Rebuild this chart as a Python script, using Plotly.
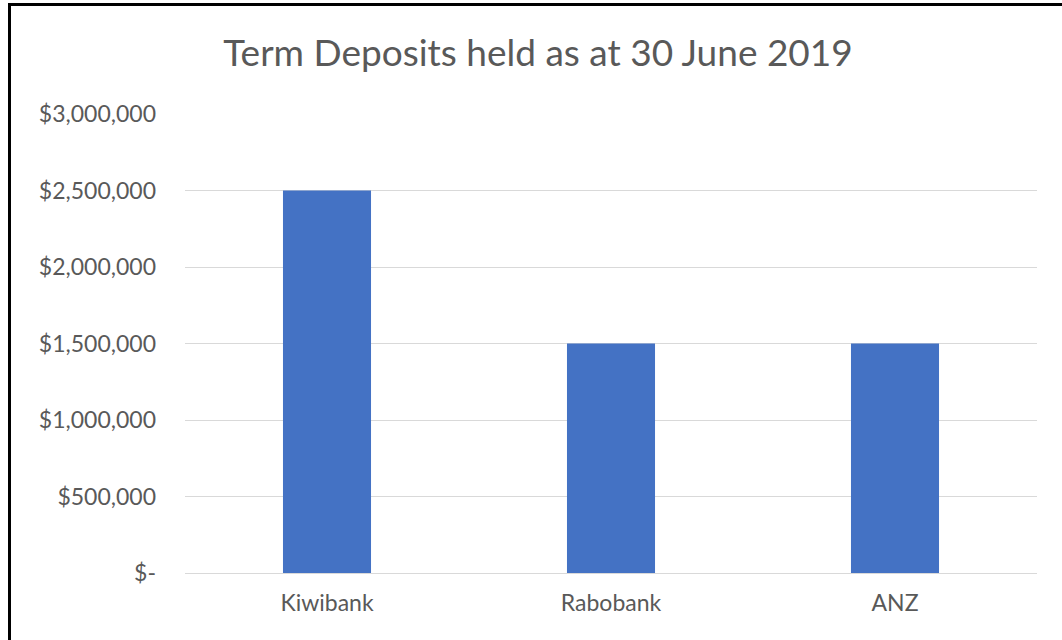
import plotly.graph_objects as go

categories = ["Kiwibank", "Rabobank", "ANZ"]
values = [2500000, 1500000, 1500000]
tick_vals = [0, 500000, 1000000, 1500000, 2000000, 2500000, 3000000]
tick_text = ["$-", "$500,000", "$1,000,000", "$1,500,000", "$2,000,000", "$2,500,000", "$3,000,000"]
title_text = "Term Deposits held as at 30 June 2019"

W, H = 1062, 640
L, R, T, B = 185, 25, 114, 67
pw, ph = W - L - R, H - T - B

fig = go.Figure(go.Bar(x=categories, y=values, marker=dict(color="#4472C4", line=dict(width=0)), width=0.31))

def px_to_paper_x(px):
    return (px - L) / pw

def px_to_paper_y(py):
    return (H - B - py) / ph

fig.update_layout(
    width=W, height=H,
    margin=dict(l=L, r=R, t=T, b=B),
    paper_bgcolor="white", plot_bgcolor="white",
    font=dict(family="Lato, Carlito, Calibri, sans-serif", color="#595959", size=23),
    title=dict(text=title_text, x=538 / W, xanchor="center", xref="container", y=1 - 53 / H, yanchor="middle",
               font=dict(size=37, color="#595959")),
    showlegend=False,
    bargap=0.69,
    xaxis=dict(showgrid=False, showline=False, ticks="", tickfont=dict(size=23), ticklabelstandoff=14),
    yaxis=dict(range=[0, 3000000], tickvals=tick_vals, ticktext=tick_text, showgrid=True,
               gridcolor="#D9D9D9", gridwidth=1, zeroline=True, zerolinecolor="#D9D9D9",
               zerolinewidth=1, showline=False, ticks="", ticklabelstandoff=28, tickfont=dict(size=23)),
    shapes=[
        dict(type="line", xref="paper", yref="paper", x0=px_to_paper_x(9.5), x1=px_to_paper_x(9.5),
             y0=px_to_paper_y(3), y1=px_to_paper_y(640), line=dict(color="black", width=3)),
        dict(type="line", xref="paper", yref="paper", x0=px_to_paper_x(8), x1=px_to_paper_x(1062),
             y0=px_to_paper_y(4.5), y1=px_to_paper_y(4.5), line=dict(color="black", width=3)),
    ],
)

fig.write_html("out.html")
